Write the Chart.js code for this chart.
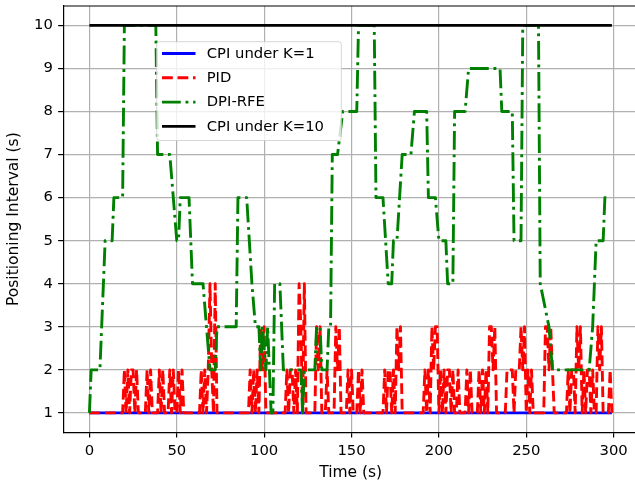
<!DOCTYPE html>
<html>
<head>
<meta charset="utf-8">
<script src="https://cdn.jsdelivr.net/npm/chart.js@4.4.1/dist/chart.umd.min.js"></script>
<style>
  html, body { margin: 0; padding: 0; background: #fff; overflow: hidden; }
  #wrap { width: 650px; height: 486px; }
</style>
</head>
<body>
<div id="wrap"><canvas id="chart" width="650" height="486"></canvas></div>
<script>
// Tick labels
const xTickValues = [0, 50, 100, 150, 200, 250, 300]
const yTickValues = [1, 2, 3, 4, 5, 6, 7, 8, 9, 10]

// Series, as [time (s), interval (s)] points
const cpiK1 = [[0, 1], [299, 1]]
const cpiK10 = [[0, 10], [299, 10]]

const pid = [
  [0, 1], [19, 1], [20, 2], [21, 1], [22, 2], [23, 1], [24, 2], [25, 2], [26, 1], [27, 2], [28, 1],
  [32, 1], [33, 2], [34, 1], [35, 2], [36, 1],
  [39, 1], [40, 2], [41, 1], [42, 2], [43, 1],
  [45, 1], [46, 2], [47, 1], [48, 2], [49, 1], [50, 1], [51, 2], [52, 1], [53, 2], [54, 1],
  [63, 1], [64, 2], [65, 1], [66, 2], [67, 1], [68, 2], [69, 4], [70, 2], [71, 1], [72, 4], [73, 1],
  [91, 1], [92, 2], [93, 1], [94, 2], [95, 1], [96, 2], [97, 1], [98, 3], [99, 2], [100, 3], [101, 1],
  [112, 1], [113, 2], [114, 1], [115, 2], [116, 2], [117, 1], [118, 2], [119, 1], [120, 4], [121, 3], [122, 1], [123, 4], [124, 1],
  [129, 1], [130, 3], [131, 2], [132, 3], [133, 1], [135, 1], [136, 2], [137, 1],
  [140, 1], [141, 3], [142, 2], [143, 3], [144, 1],
  [147, 1], [148, 2], [149, 1], [150, 2], [151, 1], [153, 1], [154, 2], [155, 1], [156, 2], [157, 1],
  [168, 1], [169, 2], [170, 1], [171, 2], [172, 2], [173, 1], [174, 2], [175, 1], [176, 3], [177, 2], [178, 3], [179, 1],
  [191, 1], [192, 2], [193, 1], [194, 2], [195, 1], [196, 3], [197, 2], [198, 3], [199, 3], [200, 1],
  [201, 2], [202, 1], [203, 2], [204, 1], [205, 2], [206, 2], [207, 1], [208, 2], [209, 1], [210, 1], [211, 2], [212, 1],
  [215, 1], [216, 2], [217, 1], [218, 2], [219, 1],
  [222, 1], [223, 2], [224, 1], [225, 2], [226, 1], [227, 2], [228, 1], [229, 3], [230, 3], [231, 2], [232, 3], [233, 1],
  [238, 1], [239, 2], [242, 2], [243, 1], [244, 2], [246, 2], [247, 3], [248, 2], [249, 3], [250, 1], [251, 2], [252, 1], [253, 2], [254, 1],
  [260, 1], [261, 3], [262, 3], [263, 2], [264, 3], [265, 2], [266, 1],
  [273, 1], [274, 2], [275, 1], [276, 2], [277, 2], [278, 1], [279, 3], [280, 2], [281, 3], [282, 1],
  [283, 2], [284, 1], [285, 2], [286, 2], [287, 1], [288, 2], [289, 1],
  [290, 1], [291, 3], [292, 2], [293, 3], [294, 1], [297, 1], [298, 2], [299, 1]
]

const dpiRfe = [
  [0, 1], [1, 2], [6, 2], [9, 5], [13, 5], [14, 6], [19, 6], [20, 10], [38, 10], [39, 7], [46, 7], [50, 5],
  [51, 5], [52, 6], [57, 6], [59, 4], [65, 4], [67, 3], [69, 2], [72, 2], [73, 3], [84, 3], [85, 6], [90, 6],
  [93, 4], [95, 3], [97, 3], [98, 2], [99, 3], [101, 2], [102, 3], [104, 1], [105, 1], [106, 4], [109, 4],
  [111, 2], [121, 2], [122, 1], [123, 2], [129, 2], [130, 3], [132, 3], [133, 2], [136, 2], [137, 3], [138, 3],
  [139, 7], [142, 7], [145, 8], [153, 8], [154, 10], [163, 10], [164, 6], [168, 6], [171, 4], [173, 4],
  [174, 5], [176, 5], [179, 7], [184, 7], [186, 8], [193, 8], [194, 6], [198, 6], [200, 5], [204, 5],
  [205, 4], [208, 4], [209, 8], [215, 8], [217, 9], [235, 9], [236, 8], [242, 8], [243, 5], [247, 5],
  [248, 10], [257, 10], [258, 4], [263, 3], [265, 2], [286, 2], [288, 3], [290, 5], [294, 5], [295, 6], [298, 6]
]

const toPoints = (pairs) => pairs.map(([x, y]) => ({ x, y }))

Chart.defaults.font.family = "'DejaVu Sans', sans-serif"
Chart.defaults.color = "#000"

// matplotlib-like legend box, drawn on top of everything
const legendPlugin = {
  id: "mplLegend",
  afterDraw(chart) {
    const { ctx } = chart
    const left = 156.7, top = 41.7, right = 341.3, bottom = 140.5, r = 3
    ctx.save()
    ctx.beginPath()
    ctx.roundRect(left, top, right - left, bottom - top, r)
    ctx.fillStyle = "rgba(255,255,255,0.8)"
    ctx.fill()
    ctx.strokeStyle = "rgba(204,204,204,0.8)"
    ctx.lineWidth = 1
    ctx.stroke()

    ctx.font = "14.8px 'DejaVu Sans'"
    ctx.textBaseline = "middle"
    ctx.textAlign = "left"
    chart.data.datasets.forEach((ds, i) => {
      const y = 53.5 + i * 24.3
      ctx.setLineDash(ds.borderDash || [])
      ctx.strokeStyle = ds.borderColor
      ctx.lineWidth = ds.borderWidth
      ctx.lineCap = "butt"
      ctx.beginPath()
      ctx.moveTo(162, y)
      ctx.lineTo(195.5, y)
      ctx.stroke()
      ctx.setLineDash([])
      ctx.fillStyle = "#000"
      ctx.fillText(ds.label, 206.7, y + 0.5)
    })
    ctx.restore()
  }
}

// top spine (the right one falls outside the picture)
const framePlugin = {
  id: "frame",
  afterDatasetsDraw(chart) {
    const { ctx, chartArea: a } = chart
    ctx.save()
    ctx.strokeStyle = "#000"
    ctx.lineWidth = 1.2
    ctx.beginPath()
    ctx.moveTo(a.left, a.top)
    ctx.lineTo(a.right, a.top)
    ctx.stroke()
    ctx.restore()
  }
}

const lineDefaults = { pointRadius: 0, borderWidth: 2.9, tension: 0, fill: false, borderJoinStyle: "round", borderCapStyle: "butt" }

new Chart(document.getElementById("chart"), {
  type: "line",
  data: {
    datasets: [
      { ...lineDefaults, label: "CPI under K=1", data: toPoints(cpiK1), borderColor: "#0000ff", order: 4 },
      { ...lineDefaults, label: "PID", data: toPoints(pid), borderColor: "#ff0000", borderDash: [10.8, 4.7], order: 3 },
      { ...lineDefaults, label: "DPI-RFE", data: toPoints(dpiRfe), borderColor: "#008000", borderDash: [18.8, 4.7, 2.9, 4.7], order: 2 },
      { ...lineDefaults, label: "CPI under K=10", data: toPoints(cpiK10), borderColor: "#000000", order: 1 }
    ]
  },
  options: {
    responsive: false,
    animation: false,
    devicePixelRatio: 1,
    layout: { padding: { top: 6, right: 12, left: 0, bottom: 0 } },
    plugins: { legend: { display: false }, tooltip: { enabled: false } },
    scales: {
      x: {
        type: "linear",
        min: -14.95,
        max: 313.95,
        afterBuildTicks: (scale) => { scale.ticks = xTickValues.map((value) => ({ value })) },
        afterFit: (scale) => {
          scale.height = 53.7
          scale.paddingLeft = 0
          scale.paddingRight = 0
        },
        ticks: { font: { size: 14.8 }, padding: 4.5, maxRotation: 0 },
        grid: { color: "#b0b0b0", lineWidth: 1.2, tickColor: "#000", tickLength: 5.2, tickWidth: 1.2 },
        border: { color: "#000", width: 1.2 },
        title: { display: true, text: "Time (s)", font: { size: 15.5 }, padding: { top: 0, bottom: 4 } }
      },
      y: {
        type: "linear",
        min: 0.55,
        max: 10.45,
        afterBuildTicks: (scale) => { scale.ticks = yTickValues.map((value) => ({ value })) },
        afterFit: (scale) => {
          scale.width = 63.3
          scale.paddingTop = 0
          scale.paddingBottom = 0
        },
        ticks: { font: { size: 14.8 }, padding: 5.2 },
        grid: { color: "#b0b0b0", lineWidth: 1.2, tickColor: "#000", tickLength: 5.2, tickWidth: 1.2 },
        border: { color: "#000", width: 1.2 },
        title: { display: true, text: "Positioning Interval (s)", font: { size: 15.5 }, padding: { top: 5, bottom: 0 } }
      }
    }
  },
  plugins: [framePlugin, legendPlugin]
})
</script>
</body>
</html>
